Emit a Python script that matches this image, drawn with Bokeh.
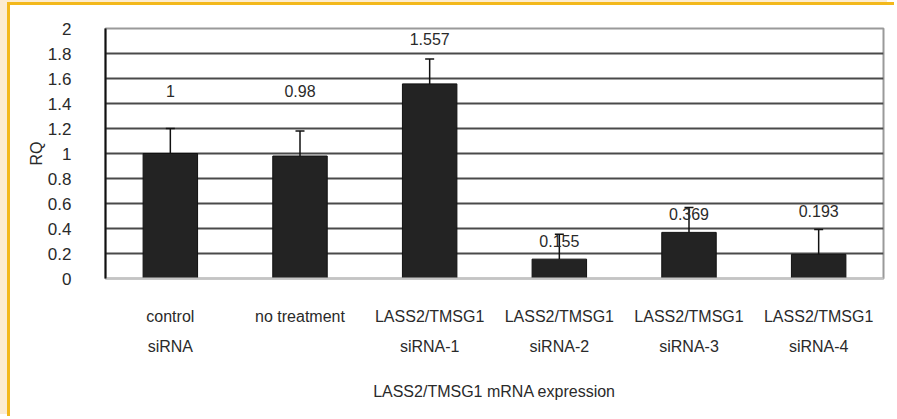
from bokeh.plotting import figure
from bokeh.models import ColumnDataSource, Whisker, TeeHead, FixedTicker, InlineStyleSheet
from bokeh.embed import file_html
from bokeh.resources import INLINE
from bokeh.core.properties import value

# ---- data ----
categories = ["control\nsiRNA", "no treatment", "LASS2/TMSG1\nsiRNA-1",
              "LASS2/TMSG1\nsiRNA-2", "LASS2/TMSG1\nsiRNA-3", "LASS2/TMSG1\nsiRNA-4"]
rq = [1.0, 0.98, 1.557, 0.155, 0.369, 0.193]
rq_err = [0.2, 0.2, 0.2, 0.2, 0.2, 0.2]
value_labels = ["1", "0.98", "1.557", "0.155", "0.369", "0.193"]
label_y = [1.50, 1.50, 1.92, 0.30, 0.52, 0.54]
y_ticks = [0, 0.2, 0.4, 0.6, 0.8, 1.0, 1.2, 1.4, 1.6, 1.8, 2.0]
y_tick_labels = ["0", "0.2", "0.4", "0.6", "0.8", "1", "1.2", "1.4", "1.6", "1.8", "2"]
x_title = "LASS2/TMSG1 mRNA expression"
y_title = "RQ"

FONT = "Liberation Sans"
TXT = "#2a2a2a"

src = ColumnDataSource(dict(
    cat=categories, rq=rq,
    upper=[v + e for v, e in zip(rq, rq_err)],
    lbl=value_labels, ly=label_y,
))

p = figure(x_range=categories, y_range=(0, 2), width=887, height=414,
           output_backend="svg", toolbar_location=None,
           min_border_left=95, min_border_right=14, min_border_top=23, min_border_bottom=141,
           background_fill_color="white", border_fill_color="white")

# page frame: yellow left/top edge with beige strip outside
p.stylesheets = [InlineStyleSheet(css="""
:host {
  margin-left: 7px !important;
  margin-top: 2px !important;
  border-left: 3px solid #f3b81b;
  border-top: 3px solid #f3b81b;
  box-shadow: -7px -2px 0 0 #fcecd0;
}
""")]

p.vbar(x="cat", top="rq", width=0.42, source=src, fill_color="#232323",
       line_color="#111111", line_width=1)

w = Whisker(base="cat", upper="upper", lower="rq", source=src,
            upper_head=TeeHead(size=9, line_color="#111111", line_width=1.5),
            lower_head=None, line_color="#111111", line_width=1.5)
p.add_layout(w)

p.text(x="cat", y="ly", text="lbl", source=src, text_align="center",
       text_baseline="middle", text_font=value(FONT), text_font_size="16px",
       text_color=TXT)

# grid
p.xgrid.visible = False
p.ygrid.ticker = FixedTicker(ticks=y_ticks[1:-1])
p.ygrid.grid_line_color = "#4a4a4a"
p.ygrid.grid_line_width = 2

p.outline_line_color = "#9a9a9a"
p.outline_line_width = 2

# y axis
p.yaxis.ticker = FixedTicker(ticks=y_ticks)
p.yaxis.major_label_overrides = {t: l for t, l in zip(y_ticks, y_tick_labels)}
p.yaxis.major_tick_line_color = None
p.yaxis.major_tick_in = 0
p.yaxis.major_tick_out = 0
p.yaxis.minor_tick_line_color = None
p.yaxis.axis_line_color = "#111111"
p.yaxis.axis_line_width = 2
p.yaxis.major_label_standoff = 34
p.yaxis.major_label_text_font = FONT
p.yaxis.major_label_text_font_size = "17px"
p.yaxis.major_label_text_color = TXT
p.yaxis.axis_label = y_title
p.yaxis.axis_label_text_font = FONT
p.yaxis.axis_label_text_font_size = "16px"
p.yaxis.axis_label_text_font_style = "normal"
p.yaxis.axis_label_text_color = TXT
p.yaxis.axis_label_standoff = 0

# x axis
p.xaxis.major_tick_line_color = None
p.xaxis.major_tick_in = 0
p.xaxis.major_tick_out = 0
p.xaxis.minor_tick_line_color = None
p.xaxis.axis_line_color = "#c4c4c4"
p.xaxis.axis_line_width = 2
p.xaxis.major_label_standoff = 29
p.xaxis.major_label_text_font = FONT
p.xaxis.major_label_text_font_size = "16px"
p.xaxis.major_label_text_color = TXT
p.xaxis.major_label_text_line_height = 1.8
p.xaxis.axis_label = x_title
p.xaxis.axis_label_text_font = FONT
p.xaxis.axis_label_text_font_size = "16px"
p.xaxis.axis_label_text_font_style = "normal"
p.xaxis.axis_label_text_color = TXT
p.xaxis.axis_label_standoff = 25

open("out.html", "w").write(file_html(p, INLINE))
